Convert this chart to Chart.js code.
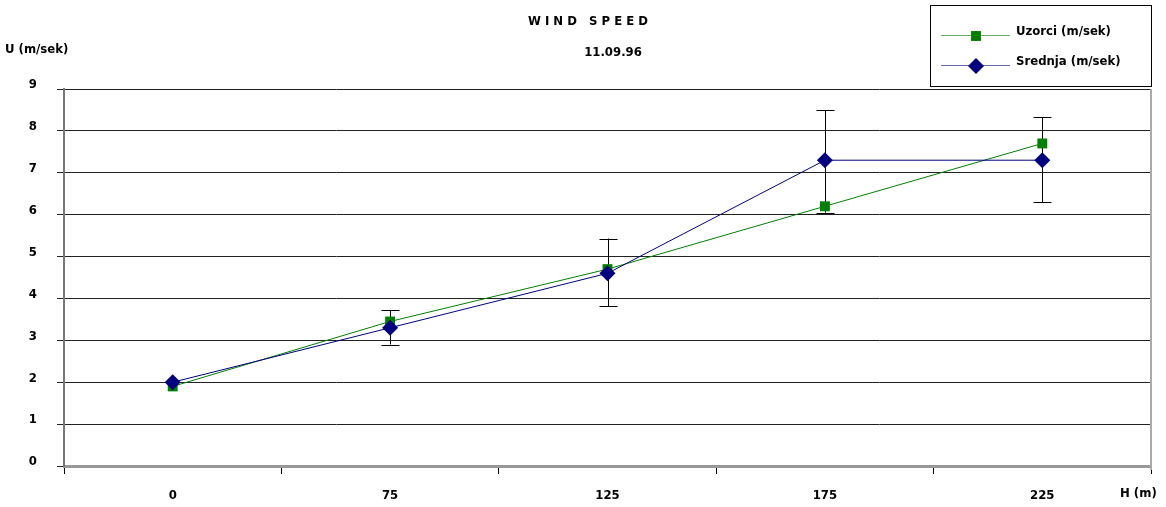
<!DOCTYPE html>
<html>
<head>
<meta charset="utf-8">
<script src="https://cdn.jsdelivr.net/npm/chart.js@4"></script>
<style>
  html, body { margin: 0; padding: 0; background: #fff; }
  #wrap { width: 1166px; height: 507px; }
</style>
</head>
<body>
<div id="wrap"><canvas id="windChart" width="1166" height="507"></canvas></div>
<script>
// chart data
const heights = ["0", "75", "125", "175", "225"];
const sampleSpeed = [1.9, 3.45, 4.7, 6.2, 7.7];     // green
const meanSpeed = [2.0, 3.3, 4.6, 7.3, 7.3];        // blue
const errHigh = [null, 3.72, 5.43, 8.5, 8.32];
const errLow = [null, 2.9, 3.81, 6.05, 6.3];
const yTicks = [0, 1, 2, 3, 4, 5, 6, 7, 8, 9];

const seriesNames = ["Uzorci (m/sek)", "Srednja (m/sek)"];
const FONT = "'Liberation Sans Narrow', 'DejaVu Sans Condensed', 'Liberation Sans', sans-serif";

// error bars on the mean series
const errorBars = {
    id: "errorBars",
    beforeDatasetsDraw(chart) {
        const { ctx, scales: { x, y } } = chart;
        ctx.save();
        ctx.strokeStyle = "#000";
        ctx.lineWidth = 1;
        heights.forEach((h, i) => {
            if (errHigh[i] == null) return;
            const px = Math.round(x.getPixelForValue(i)) + 0.5;
            const top = y.getPixelForValue(errHigh[i]);
            const bot = y.getPixelForValue(errLow[i]);
            ctx.beginPath();
            ctx.moveTo(px, top);
            ctx.lineTo(px, bot);
            ctx.moveTo(px - 9, Math.round(top) + 0.5);
            ctx.lineTo(px + 9, Math.round(top) + 0.5);
            ctx.moveTo(px - 9, Math.round(bot) + 0.5);
            ctx.lineTo(px + 9, Math.round(bot) + 0.5);
            ctx.stroke();
        });
        ctx.restore();
    },
};

// titles, axis names, frame and legend box
const decorations = {
    id: "decorations",
    afterDraw(chart) {
        const { ctx, chartArea: a } = chart;
        ctx.save();
        ctx.fillStyle = "#000";
        ctx.font = "bold 13px " + FONT;
        ctx.textBaseline = "middle";

        ctx.textAlign = "center";
        ctx.fillText("W I N D   S P E E D", 588, 22);
        ctx.fillText("11.09.96", 613, 53);

        ctx.textAlign = "left";
        ctx.fillText("U (m/sek)", 5, 50);
        ctx.fillText("H (m)", 1120, 494);

        // right frame line
        ctx.strokeStyle = "#aaa";
        ctx.lineWidth = 2;
        ctx.beginPath();
        ctx.moveTo(a.right, a.top);
        ctx.lineTo(a.right, a.bottom + 4);
        ctx.stroke();

        // legend
        ctx.strokeStyle = "#000";
        ctx.lineWidth = 1;
        ctx.fillStyle = "#fff";
        ctx.fillRect(930.5, 5.5, 221, 81);
        ctx.strokeRect(930.5, 5.5, 221, 81);

        const rows = [
            { y: 35, color: "#008000", style: "rect", r: 7 },
            { y: 65, color: "#000080", style: "rectRot", r: 8 },
        ];
        rows.forEach((row, i) => {
            ctx.strokeStyle = row.color;
            ctx.globalAlpha = 0.6;
            ctx.beginPath();
            ctx.moveTo(941, row.y + 0.5);
            ctx.lineTo(1010, row.y + 0.5);
            ctx.stroke();
            ctx.globalAlpha = 1;
            ctx.fillStyle = row.color;
            Chart.helpers.drawPoint(ctx, { pointStyle: row.style, radius: row.r, borderWidth: 0 }, 976, row.y + 1);
            ctx.fillStyle = "#000";
            ctx.fillText(seriesNames[i], 1016, row.y - 3);
        });
        ctx.restore();
    },
};

new Chart(document.getElementById("windChart"), {
    type: "line",
    data: {
        labels: heights,
        datasets: [
            {
                label: seriesNames[0],
                data: sampleSpeed,
                borderColor: "#008000",
                backgroundColor: "#008000",
                borderWidth: 1,
                pointStyle: "rect",
                pointRadius: 7,
                pointBorderWidth: 0,
                tension: 0,
                order: 1,
            },
            {
                label: seriesNames[1],
                data: meanSpeed,
                borderColor: "#000080",
                backgroundColor: "#000080",
                borderWidth: 1,
                pointStyle: "rectRot",
                pointRadius: 8,
                pointBorderWidth: 0,
                tension: 0,
                order: 0,
            },
        ],
    },
    options: {
        responsive: false,
        animation: false,
        layout: { padding: { left: 0, right: 15, top: 89, bottom: 0 } },
        plugins: {
            legend: { display: false },
            title: { display: false },
            tooltip: { enabled: false },
        },
        scales: {
            x: {
                type: "category",
                offset: true,
                afterFit(scale) { scale.height = 41; },
                grid: {
                    offset: true,
                    drawOnChartArea: false,
                    tickLength: 8,
                    color: "#000",
                },
                border: { color: "#999", width: 3 },
                ticks: {
                    padding: 14,
                    color: "#000",
                    font: { family: FONT, size: 13, weight: "bold" },
                },
            },
            y: {
                min: 0,
                max: 9,
                afterFit(scale) { scale.width = 64; },
                afterBuildTicks(scale) { scale.ticks = yTicks.map((v) => ({ value: v })); },
                grid: { color: "#222", lineWidth: 1, tickLength: 7 },
                border: { color: "#777", width: 2 },
                ticks: {
                    padding: 20,
                    labelOffset: -4,
                    color: "#000",
                    font: { family: FONT, size: 13, weight: "bold" },
                },
            },
        },
    },
    plugins: [errorBars, decorations],
});
</script>
</body>
</html>
